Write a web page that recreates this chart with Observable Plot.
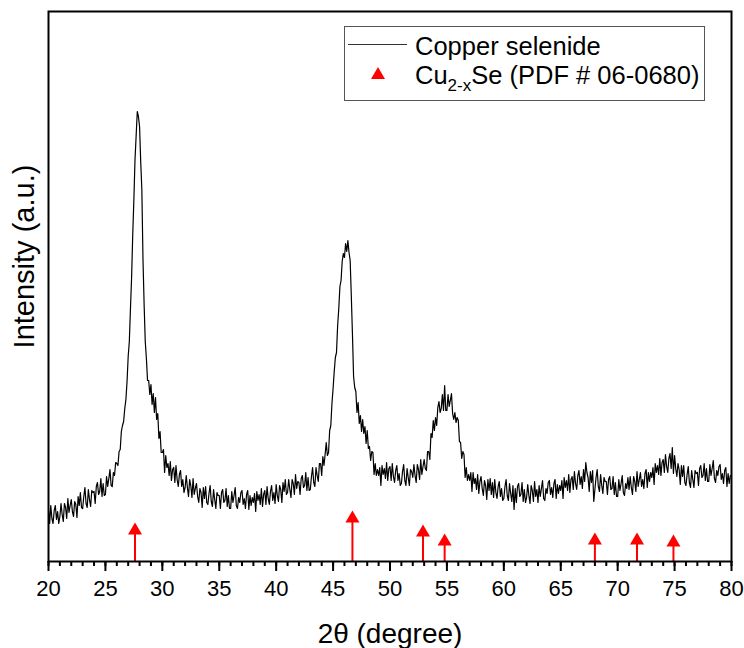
<!DOCTYPE html>
<html><head><meta charset="utf-8">
<script src="https://cdn.jsdelivr.net/npm/d3@7"></script>
<script src="https://cdn.jsdelivr.net/npm/@observablehq/plot@0.6"></script>
<style>body{margin:0;background:#fff} svg{display:block}</style>
</head><body><div id="chart"></div>
<script>
// XRD scan: 2θ from 20° to 80°, step 0.1°
const startAngle = 20, stepAngle = 0.1;
const counts20s = [
 52,38,56,43,38,51,56,42,50,38,
 45,58,47,40,58,54,43,63,49,56,
 62,50,45,60,57,44,65,56,69,54,
 53,65,74,58,54,72,62,55,71,69,
 70,58,75,79,67,70,83,65,78,66,
 67,85,75,83,92,76,75,89,86,99,
 98,96,110,112,130,136,140,153,162,180,
 205,220,253,284,327,362,402,426,450,445,
 435,400,372,302,257,220,203,181,181,167,
 177,157,168,149,164,142,148,123,130,109];
const counts30s = [
 109,112,89,106,94,98,86,100,81,92,
 94,79,96,82,75,87,91,75,82,69,
 74,86,74,65,82,76,64,83,67,73,
 78,65,59,73,69,54,74,63,75,59,
 57,68,76,60,55,72,62,53,69,66,
 66,53,69,72,59,61,73,55,66,53,
 53,70,59,66,74,56,53,64,59,69,
 71,57,63,53,67,71,52,66,56,64,
 59,68,50,70,61,67,57,73,55,67,
 71,57,75,63,57,70,76,61,69,58];
const counts40s = [
 77,66,60,76,72,59,79,70,82,67,
 69,82,72,64,82,78,67,87,73,80,
 79,67,83,86,74,76,89,71,84,71,
 72,85,94,79,75,94,86,80,98,98,
 86,105,96,107,119,106,109,131,136,158,
 173,190,204,209,236,253,275,281,300,308,
 304,318,310,321,309,301,266,228,185,174,
 170,149,159,138,146,130,142,128,135,118,
 131,113,115,101,110,109,87,98,86,92,
 86,94,76,96,87,93,83,99,81,93];
const counts50s = [
 95,81,98,85,79,91,96,81,88,76,
 78,90,97,81,76,93,84,76,92,90,
 84,97,86,79,97,92,82,102,87,95,
 102,93,91,110,110,102,128,124,141,131,
 144,136,154,160,149,153,167,151,176,151,
 151,167,155,161,168,148,142,149,139,144,
 141,120,119,103,110,107,84,94,81,87,
 81,89,70,89,78,83,72,87,68,80,
 85,73,66,81,76,62,82,71,83,67,
 79,64,82,69,63,75,80,65,73,61];
const counts60s = [
 63,75,82,66,61,78,68,60,76,52,
 73,59,75,78,65,67,79,60,72,59,
 64,77,66,58,76,71,60,80,65,72,
 59,76,65,73,81,63,61,73,68,79,
 81,67,74,64,78,82,63,77,68,76,
 71,81,63,84,74,81,71,87,69,82,
 85,72,90,78,72,86,91,77,85,73,
 92,80,99,89,84,70,90,79,91,60,
 72,84,92,75,70,87,76,68,84,80,
 80,67,82,85,72,73,85,67,79,65];
const counts70s = [
 65,82,71,78,86,69,66,78,73,84,
 72,85,74,67,85,80,70,90,75,82,
 89,75,82,73,88,92,74,89,80,89,
 84,94,77,98,89,96,87,103,86,99,
 102,89,107,95,89,103,108,93,114,88,
 106,93,85,98,92,77,96,85,96,79,
 76,87,95,79,74,91,82,74,91,88,
 89,76,93,96,84,86,98,81,93,80,
 80,97,86,93,101,83,79,91,86,95,
 97,82,88,78,91,94,75,88,78,86,
 86];

// Cu2-xSe reference lines (PDF # 06-0680)
const refAngles = [27.6, 46.7, 52.9, 54.8, 68.0, 71.7, 74.9];
const refHeights = [31, 43, 29, 20, 21, 21, 19];

const majorTicks = [20, 25, 30, 35, 40, 45, 50, 55, 60, 65, 70, 75, 80];
const minorTicks = d3.range(20, 81, 1);

const intensity = [...counts20s, ...counts30s, ...counts40s, ...counts50s, ...counts60s, ...counts70s];
const pattern = intensity.map((v, i) => ({angle: +(startAngle + i * stepAngle).toFixed(1), v}));
const refs = refAngles.map((a, i) => ({angle: a, h: refHeights[i]}));

const font = "'Liberation Sans', Arial, sans-serif";

const plot = Plot.plot({
  width: 744, height: 648,
  marginLeft: 48, marginRight: 13, marginTop: 11, marginBottom: 87,
  style: {fontFamily: font, background: "white", color: "black"},
  x: {domain: [20, 80], label: null},
  y: {domain: [0, 550], axis: null, label: null},
  marks: [
    Plot.axisX({ticks: minorTicks, tickSize: 5, strokeWidth: 2, tickFormat: () => "", label: null}),
    Plot.axisX({ticks: majorTicks, tickSize: 10, tickPadding: 9, strokeWidth: 2, fontSize: 22, label: null}),
    Plot.line(pattern, {x: "angle", y: "v", stroke: "black", strokeWidth: 1.2}),
    Plot.ruleX(refs, {x: "angle", y1: 0, y2: "h", stroke: "#ff0000", strokeWidth: 2}),
    Plot.dot(refs, {x: "angle", y: "h", symbol: "triangle", r: 5.2, fill: "#ff0000"}),
    Plot.frame({stroke: "black", strokeWidth: 2}),
    Plot.text(["2θ (degree)"], {frameAnchor: "bottom", dy: 81, fontSize: 28}),
    Plot.text(["Intensity (a.u.)"], {frameAnchor: "left", dx: -24, dy: -30, rotate: -90, fontSize: 29, textAnchor: "middle"})
  ]
});

// legend box
const svg = d3.select(plot);
const g = svg.append("g").attr("font-family", font).attr("fill", "black").attr("text-anchor", "start");
g.append("rect").attr("x", 344.5).attr("y", 26.5).attr("width", 360).attr("height", 74)
  .attr("fill", "white").attr("stroke", "#555").attr("stroke-width", 1);
g.append("line").attr("x1", 348).attr("x2", 407).attr("y1", 44.5).attr("y2", 44.5)
  .attr("stroke", "#333").attr("stroke-width", 1);
g.append("text").attr("x", 415).attr("y", 55).attr("font-size", 25.5).text("Copper selenide");
g.append("path").attr("d", d3.symbol(d3.symbolTriangle, 85)()).attr("transform", "translate(378,75)").attr("fill", "#ff0000");
const t = g.append("text").attr("x", 415).attr("y", 84).attr("font-size", 25.5);
t.append("tspan").text("Cu");
t.append("tspan").attr("font-size", 17).attr("dy", 7).text("2-x");
t.append("tspan").attr("dy", -7).text("Se (PDF # 06-0680)");

document.getElementById("chart").appendChild(plot);
</script>
</body></html>
